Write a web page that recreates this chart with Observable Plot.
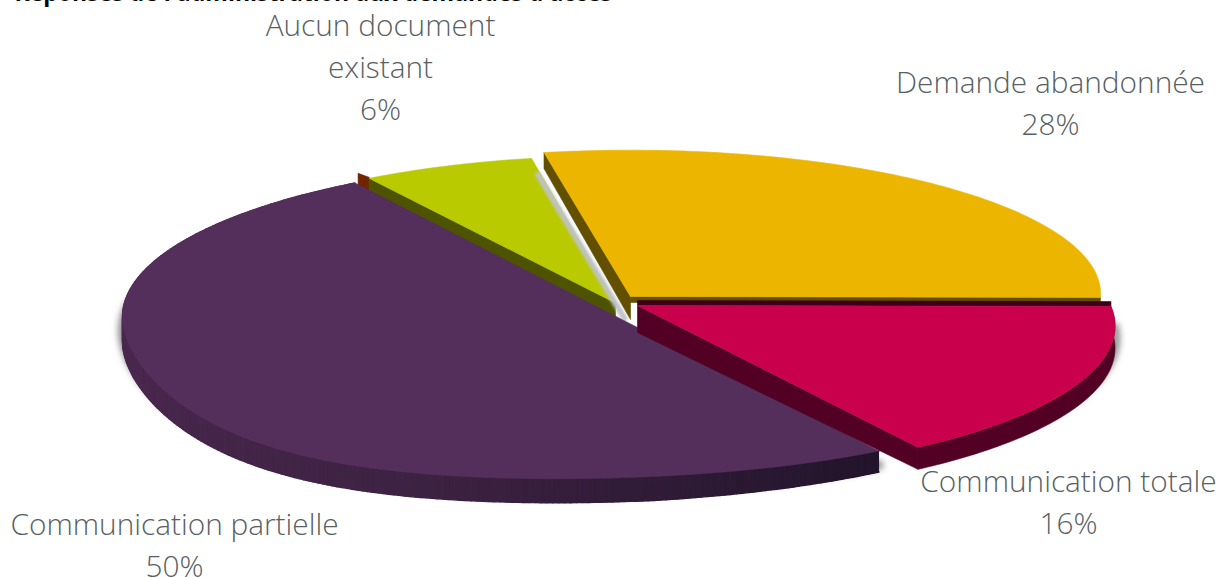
<!DOCTYPE html>
<html>
<head>
<meta charset="utf-8">
<script src="https://cdn.jsdelivr.net/npm/d3@7"></script>
<script src="https://cdn.jsdelivr.net/npm/@observablehq/plot@0.6"></script>
<style>
  html, body { margin: 0; padding: 0; background: #fff; overflow: hidden; }
  svg { display: block; }
</style>
</head>
<body>
<div id="chart"></div>
<script>
// Shares of each outcome, clockwise from the top of the pie.
const categories = ["Demande abandonnée", "Communication totale", "Communication partielle", "Aucun document existant"];
const shares = [28, 16, 50, 6];
const labelLines = ["Demande abandonnée\n28%", "Communication totale\n16%", "Communication partielle\n50%", "Aucun document\nexistant\n6%"];
const topColors = ["#ecb500", "#c9004b", "#552f5b", "#b9ca00"];
const wallColors = ["#634f00", "#520023", "#4d2850", "#4d5300"];
const headline = "Réponses de l'administration aux demandes d'accès";

// Where each exploded wedge sits on the tilted disc: apex, radii, foreshortening,
// wall height and how far the near rim swells towards the viewer.
const wedgeShape = [
  { cx: 630, cy: 296, rx: 470, ry: 143.5, persp: -0.02, wall: 23, swell: 0 },
  { cx: 637, cy: 305, rx: 473, ry: 149.5, persp: 0.14, wall: 22, swell: 0 },
  { cx: 616.5, cy: 316.5, rx: 494.5, ry: 158, persp: 0, wall: 24, swell: 17 },
  { cx: 615, cy: 302.5, rx: 465, ry: 147, persp: 0, wall: 14, swell: 0 }
];
const labelX = [1050, 1068, 174, 380];
const labelY = [100, 499, 542, 64.5];

// d3.pie turns the shares into angles; the first wedge starts a little left of twelve o'clock.
const pieStart = -10.4 * Math.PI / 180;
const arcs = d3.pie().sort(null).startAngle(pieStart).endAngle(pieStart + 2 * Math.PI)(shares);

const swellAt = (s, t) => {
  const u = (t - arcs[2].startAngle) / (1.5 * Math.PI - arcs[2].startAngle);
  if (!s.swell || u <= 0 || u >= 1) return 0;
  return s.swell * Math.sin(Math.PI * Math.pow(u, 1.5)) ** 2;
};

const project = (i, t) => {
  const s = wedgeShape[i];
  const k = 1 - s.persp * Math.cos(t);
  return {
    x: s.cx + s.rx * Math.sin(t) * k,
    y: s.cy - s.ry * Math.cos(t) * k + swellAt(s, t)
  };
};

const rimOf = (i, steps = 90) => {
  const a = arcs[i];
  return d3.range(steps + 1).map(j => {
    const t = a.startAngle + (a.endAngle - a.startAngle) * j / steps;
    return project(i, t);
  });
};

const outlineOf = i => {
  const s = wedgeShape[i];
  return [{ x: s.cx, y: s.cy }, ...rimOf(i), { x: s.cx, y: s.cy }];
};

// Wall under a straight cut: a parallelogram from the apex to one end of the rim.
const cutWall = (i, end, dropApex, dropRim) => {
  const s = wedgeShape[i];
  const rim = rimOf(i);
  const p = end === "start" ? rim[0] : rim[rim.length - 1];
  return [
    { x: s.cx, y: s.cy },
    { x: p.x, y: p.y },
    { x: p.x, y: p.y + dropRim },
    { x: s.cx, y: s.cy + dropApex },
    { x: s.cx, y: s.cy }
  ];
};

// Curved wall in one flat colour: the rim and the same rim dropped by the wall height.
const flatRimWall = i => {
  const rim = rimOf(i);
  return [...rim, ...rim.slice().reverse().map(p => ({ x: p.x, y: p.y + wedgeShape[i].wall })), rim[0]];
};

// Curved wall as narrow quads, shaded along the rim; the wall is a little lower where the rim starts.
const rimWall = (i, shade, steps = 220, startRatio = 1) => {
  const a = arcs[i];
  const at = j => {
    const u = j / steps;
    const p = project(i, a.startAngle + (a.endAngle - a.startAngle) * u);
    return { ...p, h: wedgeShape[i].wall * (startRatio + (1 - startRatio) * Math.min(1, u / 0.15)) };
  };
  return d3.range(steps).flatMap(j => {
    const p = at(j), q = at(j + 1), color = shade(j / steps);
    return [
      { seg: j, color, x: p.x, y: p.y },
      { seg: j, color, x: q.x, y: q.y },
      { seg: j, color, x: q.x, y: q.y + q.h },
      { seg: j, color, x: p.x, y: p.y + p.h }
    ];
  });
};

const poly = (rows, fill) => Plot.line(rows, { x: "x", y: "y", fill, stroke: fill, strokeWidth: 0.6, curve: "linear" });
const band = rows => Plot.line(rows, { x: "x", y: "y", z: "seg", fill: "color", stroke: "color", strokeWidth: 1.4, curve: "linear" });

const [orange, red, purple, green] = [0, 1, 2, 3];

// Rust-coloured back wall showing beside the green wedge's outer corner.
const greenFirst = rimOf(green)[0];
const backSliver = [
  { x: greenFirst.x, y: greenFirst.y - 1 },
  { x: greenFirst.x - 11, y: greenFirst.y - 5 },
  { x: greenFirst.x - 11, y: greenFirst.y + 12 },
  { x: greenFirst.x, y: greenFirst.y + 16 },
  { x: greenFirst.x, y: greenFirst.y - 1 }
];

const purpleShade = d3.scaleLinear().domain([0, 0.3, 0.6, 1]).range(["#22142a", "#3c2242", "#4a274e", "#522c57"]).interpolate(d3.interpolateRgb);

const chart = Plot.plot({
  width: 1220,
  height: 578,
  margin: 0,
  x: { type: "linear", domain: [0, 1220], range: [0, 1220], axis: null },
  y: { type: "linear", domain: [0, 578], range: [0, 578], axis: null },
  color: { type: "identity" },
  style: { background: "#fff", overflow: "hidden" },
  marks: [
    // Green wedge
    poly(backSliver, "#6f2500"),
    poly(cutWall(green, "start", 18, 20), wallColors[green]),
    poly(outlineOf(green), topColors[green]),

    // Soft shadow between the green wedge and the orange wall
    Plot.line([rimOf(orange)[0], { x: wedgeShape[orange].cx, y: wedgeShape[orange].cy }],
      { x: d => d.x - 6, y: d => d.y + 22, stroke: "#bfc2c6", strokeWidth: 6, imageFilter: "blur(1.5px)" }),

    // Orange wedge
    poly(cutWall(orange, "start", wedgeShape[orange].wall, 16), wallColors[orange]),
    poly(cutWall(orange, "end", 6, 6), wallColors[orange]),
    poly(outlineOf(orange), topColors[orange]),

    // Blurred halo under the purple and red walls
    Plot.line(rimOf(purple).map(d => ({ x: d.x, y: d.y + 14 })).filter(d => d.y > 300),
      { x: "x", y: "y", stroke: "#8c8c90", strokeWidth: 9, imageFilter: "blur(3px)" }),
    Plot.line(rimOf(red).map(d => ({ x: d.x + 1, y: d.y + 12 })).filter(d => d.y > 325),
      { x: "x", y: "y", stroke: "#8c8c90", strokeWidth: 8, imageFilter: "blur(3px)" }),

    // Purple wedge
    band(rimWall(purple, purpleShade, 260, 0.875)),
    poly(outlineOf(purple), topColors[purple]),

    // Red wedge with its thin rear wall and its front walls
    poly(cutWall(red, "start", -5, -5), "#3d0018"),
    poly(cutWall(red, "end", 27, wedgeShape[red].wall), wallColors[red]),
    poly(flatRimWall(red), wallColors[red]),
    poly(outlineOf(red), topColors[red]),

    // Headline, mostly above the page edge
    Plot.text([headline], {
      x: 14, y: -7, text: d => d, textAnchor: "start", fontSize: 23, fontWeight: 700,
      fontFamily: "'Open Sans', sans-serif", fill: "#000"
    }),

    // Labels
    Plot.text(labelLines, {
      x: (d, i) => labelX[i], y: (d, i) => labelY[i], text: d => d,
      textAnchor: "middle", lineAnchor: "middle", lineHeight: 1.41, fontSize: 29.8,
      fontFamily: "'Open Sans', sans-serif", fontWeight: 300, fill: "#595f63"
    })
  ]
});
document.getElementById("chart").append(chart);
</script>
</body>
</html>
